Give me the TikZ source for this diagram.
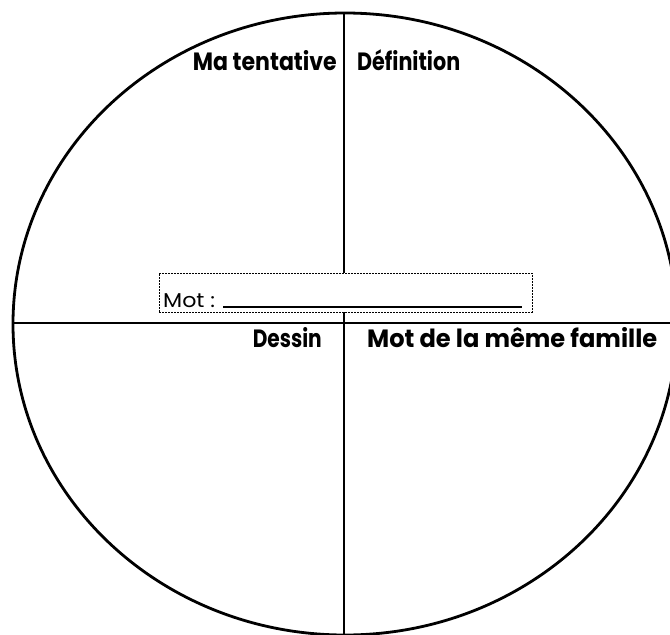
\documentclass[tikz,border=0pt]{standalone}
\usepackage{fontspec}
\setmainfont{Poppins}
\begin{document}
\begin{tikzpicture}[x=1pt,y=-1pt,
  thickline/.style={line width=1.8pt},
  rim/.style={line width=2.8pt},
  quadlabel/.style={inner sep=0pt,font=\bfseries\fontsize{25}{28}\selectfont},
  wordbox/.style={draw,fill=white,dash pattern=on 2pt off 1pt,line width=0.7pt,minimum width=373pt,minimum height=39pt,inner sep=0pt}]
\useasboundingbox (0,0) rectangle (670,635);
\begin{scope}
\clip (0,0) rectangle (670,635);
\node[coordinate] (c) at (345,324) {};
\draw[rim] (c) ellipse [x radius=332, y radius=311];
\coordinate (vtop) at (344,12);
\coordinate (vbot) at (344,640);
\coordinate (hleft) at (13,323);
\coordinate (hright) at (675,323);
\draw[thickline] (vtop) -- (vbot);
\draw[thickline] (hleft) -- (hright);
\end{scope}
\node[wordbox] (box) at (345.5,292.5) {};
\node[inner sep=0pt,anchor=base west,font=\fontsize{20}{22}\selectfont] (mot) at (163,307) {\resizebox{52pt}{\height}{Mot :}};
\coordinate (ulstart) at (223,307);
\coordinate (ulend) at (522,307);
\draw[line width=1.3pt] (ulstart) -- (ulend);
\node[quadlabel,anchor=base east] (tent) at (337,70) {\resizebox{144pt}{\height}{Ma tentative}};
\node[quadlabel,anchor=base west] (def) at (357,70) {\resizebox{103pt}{\height}{Définition}};
\node[quadlabel,anchor=base east] (des) at (322,347) {\resizebox{69pt}{\height}{Dessin}};
\node[quadlabel,anchor=base west] (fam) at (367,347) {\resizebox{290pt}{\height}{Mot de la même famille}};
\end{tikzpicture}
\end{document}
